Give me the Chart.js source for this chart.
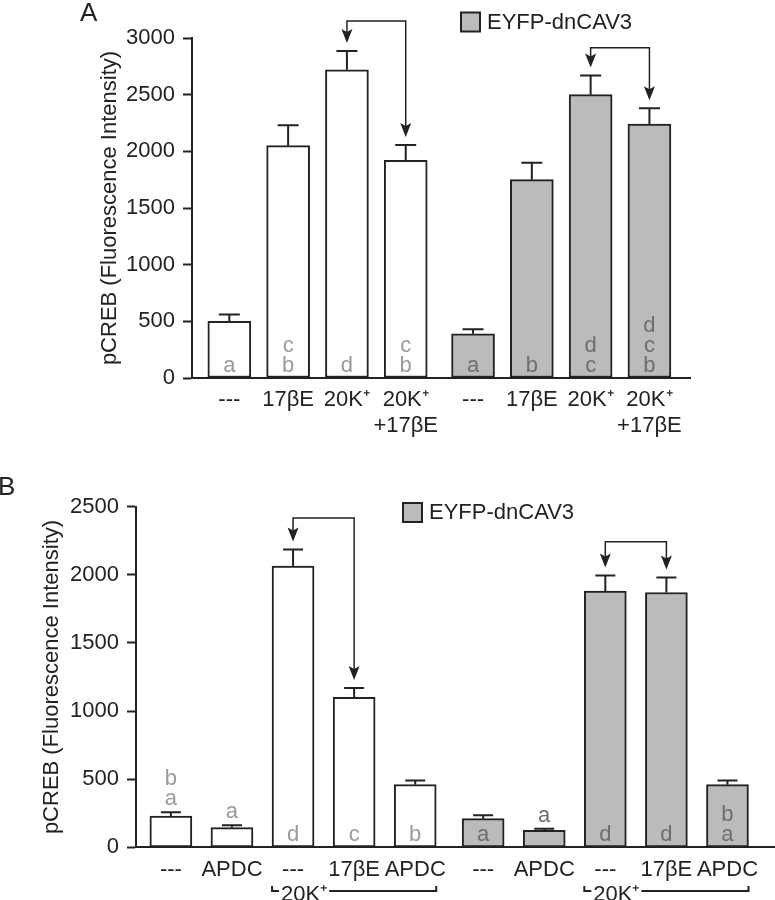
<!DOCTYPE html>
<html>
<head>
<meta charset="utf-8">
<script src="https://cdn.jsdelivr.net/npm/chart.js@4.4.1/dist/chart.umd.min.js"></script>
<style>
  body { margin: 0; background: #fff; }
  canvas { display: block; }
</style>
</head>
<body>
<canvas id="chartA" width="775" height="450"></canvas>
<canvas id="chartB" width="775" height="450"></canvas>
<script>
// --- panel A data ---
const condsA = ['---', '17βE', '20K⁺', ['20K⁺', '+17βE']];
const ctrlA = [500, 2050, 2720, 1920];
const ctrlErrA = [60, 180, 165, 135];
const dnA = [390, 1750, 2500, 2240];
const dnErrA = [40, 150, 170, 140];
const ctrlLettersA = [['a'], ['b', 'c'], ['d'], ['b', 'c']];   // bottom -> top
const dnLettersA = [['a'], ['b'], ['c', 'd'], ['b', 'c', 'd']];
const yTicksA = [0, 500, 1000, 1500, 2000, 2500, 3000];

// --- panel B data ---
const condsB = ['---', 'APDC', '---', '17βE', 'APDC'];
const ctrlB = [230, 145, 2065, 1100, 460];
const ctrlErrB = [27, 17, 120, 70, 30];
const dnB = [210, 125, 1880, 1870, 460];
const dnErrB = [25, 12, 115, 110, 30];
const ctrlLettersB = [['a', 'b'], ['a'], ['d'], ['c'], ['b']];
const dnLettersB = [['a'], ['a'], ['d'], ['d'], ['a', 'b']];
const yTicksB = [0, 500, 1000, 1500, 2000, 2500];

const seriesName = 'EYFP-dnCAV3';
const INK = '#222';
const GREY = '#bbbbbb';
const FONT = '"Liberation Sans", Arial, Helvetica, sans-serif';

// arrow: drawn from bar 'from' to bar 'to' of one dataset, top line at 'level' (data units)
function drawArrowHead(ctx, x, tip) {
    ctx.beginPath();
    ctx.moveTo(x, tip);
    ctx.lineTo(x - 5.5, tip - 14);
    ctx.lineTo(x, tip - 11);
    ctx.lineTo(x + 5.5, tip - 14);
    ctx.closePath();
    ctx.fill();
}

const extras = {
    id: 'extras',
    afterDatasetsDraw(chart, args, o) {
        const ctx = chart.ctx;
        const ys = chart.scales.y;
        const errTop = (d, i) => ys.getPixelForValue(chart.data.datasets[d].data[i].y + o.errors[d][i]);
        ctx.save();
        ctx.strokeStyle = INK;
        ctx.fillStyle = INK;

        // error bars (upper only)
        chart.data.datasets.forEach((ds, d) => {
            chart.getDatasetMeta(d).data.forEach((bar, i) => {
                const t = errTop(d, i);
                ctx.lineWidth = 2;
                ctx.beginPath();
                ctx.moveTo(bar.x, bar.y);
                ctx.lineTo(bar.x, t);
                ctx.moveTo(bar.x - o.cap / 2, t);
                ctx.lineTo(bar.x + o.cap / 2, t);
                ctx.stroke();
            });
        });

        // significance letters
        ctx.font = '22px ' + FONT;
        ctx.textAlign = 'center';
        ctx.textBaseline = 'alphabetic';
        chart.data.datasets.forEach((ds, d) => {
            ctx.fillStyle = o.letterColors[d];
            chart.getDatasetMeta(d).data.forEach((bar, i) => {
                const ls = o.letters[d][i];
                const h = bar.base - bar.y;
                let yb = h >= ls.length * 20 + 6 ? bar.base - 6 : errTop(d, i) - 7;
                ls.forEach((l, k) => ctx.fillText(l, bar.x, yb - k * 20));
            });
        });

        // comparison arrows
        ctx.fillStyle = INK;
        ctx.lineWidth = 1.5;
        o.arrows.forEach(a => {
            const meta = chart.getDatasetMeta(a.ds);
            const x1 = meta.data[a.from].x, x2 = meta.data[a.to].x;
            const t1 = errTop(a.ds, a.from) - 8, t2 = errTop(a.ds, a.to) - 8;
            const ly = ys.getPixelForValue(a.level);
            ctx.beginPath();
            ctx.moveTo(x1, t1 - 10);
            ctx.lineTo(x1, ly);
            ctx.lineTo(x2, ly);
            ctx.lineTo(x2, t2 - 10);
            ctx.stroke();
            drawArrowHead(ctx, x1, t1);
            drawArrowHead(ctx, x2, t2);
        });

        // brackets under the x labels
        (o.brackets || []).forEach(b => {
            const meta = chart.getDatasetMeta(b.ds);
            const l = meta.data[b.from].x - meta.data[b.from].width / 2;
            const r = meta.data[b.to].x + meta.data[b.to].width / 2;
            ctx.font = '22px ' + FONT;
            ctx.textAlign = 'left';
            ctx.textBaseline = 'alphabetic';
            const tx = l + 9;
            const tw = ctx.measureText(b.text).width;
            ctx.fillText(b.text, tx, b.y + 10);
            ctx.lineWidth = 2;
            ctx.beginPath();
            ctx.moveTo(l, b.y - 5);
            ctx.lineTo(l, b.y);
            ctx.lineTo(tx - 2, b.y);
            ctx.moveTo(tx + tw + 2, b.y);
            ctx.lineTo(r, b.y);
            ctx.lineTo(r, b.y - 5);
            ctx.stroke();
        });

        // legend for the grey series
        const lg = o.legend;
        const gds = chart.data.datasets[1];
        ctx.fillStyle = gds.backgroundColor;
        ctx.fillRect(lg.x, lg.y, 19, 19);
        ctx.lineWidth = 2;
        ctx.strokeRect(lg.x, lg.y, 19, 19);
        ctx.fillStyle = INK;
        ctx.font = '22px ' + FONT;
        ctx.textAlign = 'left';
        ctx.textBaseline = 'middle';
        ctx.fillText(gds.label, lg.x + 26, lg.y + 10);

        // panel letter
        ctx.font = '26px ' + FONT;
        ctx.textBaseline = 'alphabetic';
        ctx.fillText(o.panel.text, o.panel.x, o.panel.y);
        ctx.restore();
    }
};

function makeChart(id, cfg) {
    const n = cfg.conds.length;
    const xsCtrl = cfg.conds.map((c, i) => i);
    const xsDn = cfg.conds.map((c, i) => i + n + cfg.gap);
    const positions = xsCtrl.concat(xsDn);
    const tickLabels = cfg.conds.concat(cfg.conds);
    const barStyle = { borderColor: INK, borderWidth: 2, borderSkipped: false, barThickness: cfg.barWidth, grouped: false };

    return new Chart(document.getElementById(id), {
        type: 'bar',
        data: {
            datasets: [
                Object.assign({ label: 'control', data: cfg.ctrl.map((v, i) => ({ x: xsCtrl[i], y: v })), backgroundColor: '#ffffff' }, barStyle),
                Object.assign({ label: seriesName, data: cfg.dn.map((v, i) => ({ x: xsDn[i], y: v })), backgroundColor: GREY }, barStyle)
            ]
        },
        options: {
            responsive: false,
            animation: false,
            layout: { padding: cfg.padding },
            scales: {
                x: {
                    type: 'linear',
                    offset: false,
                    min: cfg.xMin,
                    max: cfg.xMax,
                    afterBuildTicks: s => { s.ticks = positions.map(v => ({ value: v })); },
                    afterFit: s => { s.height = cfg.xHeight; },
                    grid: { display: false, drawTicks: false },
                    border: { display: true, color: INK, width: 2 },
                    ticks: {
                        autoSkip: false, maxRotation: 0, padding: 9.5, color: INK,
                        font: { family: FONT, size: 22, lineHeight: 1.17 },
                        callback: (v, i) => tickLabels[i]
                    }
                },
                y: {
                    min: cfg.yTicks[0],
                    max: cfg.yTicks[cfg.yTicks.length - 1],
                    afterFit: s => { s.width = cfg.yWidth; },
                    ticks: {
                        stepSize: cfg.yTicks[1] - cfg.yTicks[0], padding: 8, color: INK,
                        font: { family: FONT, size: 22 },
                        callback: v => String(v)
                    },
                    grid: { drawOnChartArea: false, drawTicks: true, tickLength: 9, tickColor: INK, tickWidth: 2 },
                    border: { display: true, color: INK, width: 2 },
                    title: { display: true, text: 'pCREB (Fluorescence Intensity)', color: INK, font: { family: FONT, size: 22 } }
                }
            },
            plugins: {
                legend: { display: false },
                tooltip: { enabled: false },
                extras: {
                    errors: [cfg.ctrlErr, cfg.dnErr],
                    letters: [cfg.ctrlLetters, cfg.dnLetters],
                    letterColors: ['#9a9a9a', '#6e6e6e'],
                    cap: cfg.cap,
                    arrows: cfg.arrows,
                    brackets: cfg.brackets,
                    legend: cfg.legend,
                    panel: cfg.panel
                }
            }
        },
        plugins: [extras]
    });
}

makeChart('chartA', {
    conds: condsA, ctrl: ctrlA, ctrlErr: ctrlErrA, dn: dnA, dnErr: dnErrA,
    ctrlLetters: ctrlLettersA, dnLetters: dnLettersA, yTicks: yTicksA,
    gap: 0.145, xMin: -0.635, xMax: 7.835, barWidth: 43, cap: 21,
    padding: { top: 38, left: 93, right: 85, bottom: 0 }, yWidth: 99, xHeight: 72,
    arrows: [{ ds: 0, from: 2, to: 3, level: 3150 }, { ds: 1, from: 2, to: 3, level: 2915 }],
    brackets: [],
    legend: { x: 461, y: 12.5 },
    panel: { text: 'A', x: 80, y: 21 }
});

makeChart('chartB', {
    conds: condsB, ctrl: ctrlB, ctrlErr: ctrlErrB, dn: dnB, dnErr: dnErrB,
    ctrlLetters: ctrlLettersB, dnLetters: dnLettersB, yTicks: yTicksB,
    gap: 0.112, xMin: -0.571, xMax: 9.89, barWidth: 42, cap: 20,
    padding: { top: 56.7, left: 35, right: 0, bottom: 0 }, yWidth: 101, xHeight: 52.7,
    arrows: [{ ds: 0, from: 2, to: 3, level: 2417 }, { ds: 1, from: 2, to: 3, level: 2243 }],
    brackets: [{ ds: 0, from: 2, to: 4, text: '20K⁺', y: 441 }, { ds: 1, from: 2, to: 4, text: '20K⁺', y: 441 }],
    legend: { x: 403, y: 53 },
    panel: { text: 'B', x: -2, y: 45 }
});
</script>
</body>
</html>
